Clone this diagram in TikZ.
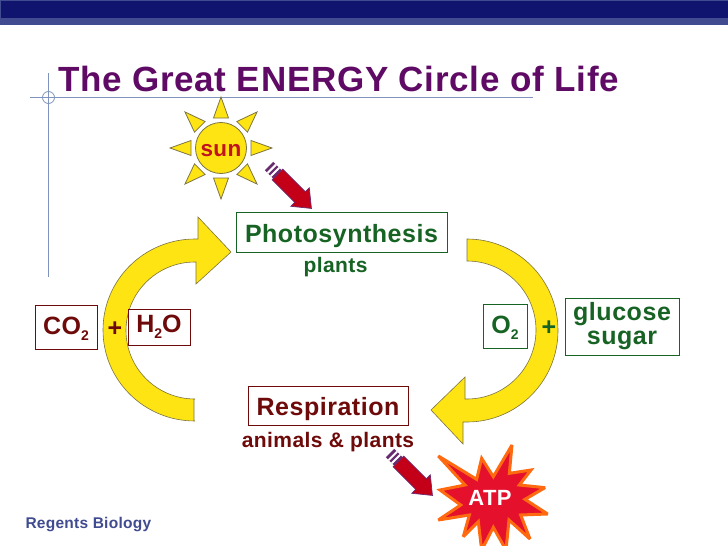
\documentclass[tikz,border=0pt]{standalone}
\usepackage{fontspec}
\setmainfont{Liberation Sans}
\definecolor{navy}{HTML}{10146E}
\definecolor{band}{HTML}{414C90}
\definecolor{guide}{HTML}{7F93BE}
\definecolor{ttl}{HTML}{5F0A64}
\definecolor{yel}{HTML}{FFE414}
\definecolor{yedge}{HTML}{7C7440}
\definecolor{grn}{HTML}{176324}
\definecolor{mar}{HTML}{6E0A0A}
\definecolor{sunred}{HTML}{C0141E}
\definecolor{arrred}{HTML}{C40018}
\definecolor{arredge}{HTML}{6A2A70}
\definecolor{starred}{HTML}{E4102C}
\definecolor{starorg}{HTML}{FF6A10}
\newcommand{\spaced}[2]{\fontsize{#1}{#1}\bfseries\addfontfeature{LetterSpace=#2}}
\tikzset{
  x=1pt,y=-1pt,
  every node/.style={font=\bfseries,inner sep=0pt,outer sep=0pt},
  greenbox/.style={draw=grn,line width=0.9pt,fill=white,text=grn,align=center},
  marbox/.style={draw=mar,line width=0.9pt,fill=white,text=mar,align=center},
  greentxt/.style={text=grn},
  martxt/.style={text=mar},
  curve/.style={fill=yel,draw=yedge,line width=0.6pt,line join=miter},
  ray/.style={fill=yel,draw=yedge,line width=0.8pt},
  big/.style={font=\spaced{25}{2.1}},
  small/.style={font=\spaced{21}{2}},
  drop/.style={text height=2*#1,text depth=0pt},
}
\newcommand{\subtwo}{\raisebox{-6.5pt}{\fontsize{14}{16}\bfseries 2}}
\newcommand{\redarrow}[3]{%
  \begin{scope}[shift={(#1,#2)},rotate=#3,y=1pt]
    \fill[arredge] (0,-6) rectangle (12,6);
    \fill[white] (3,-6) rectangle (5,6);
    \fill[white] (7.5,-6) rectangle (9.5,6);
    \fill[arrred,draw=arredge,line width=0.7pt,line join=miter]
      (12,-7.5) -- (44,-7.5) -- (44,-13) -- (60,0) -- (44,13) -- (44,7.5) -- (12,7.5) -- cycle;
  \end{scope}}
\begin{document}
\begin{tikzpicture}
\useasboundingbox (0,0) rectangle (728,546);
\clip (0,0) rectangle (728,546);
\fill[white] (0,0) rectangle (728,546);
% header
\fill[band] (0,0) rectangle (728,24.5);
\fill[navy] (1,1) rectangle (728,18);
% guides
\draw[guide,line width=0.8pt] (48.5,73) -- (48.5,277);
\draw[guide,line width=0.8pt] (30,97.5) -- (533,97.5);
\draw[guide,line width=0.8pt] (48.5,97.5) circle [radius=6];
% title
\node[anchor=base west,text=ttl,font=\spaced{35}{2.1}] (title) at (58,91) {The Great ENERGY Circle of Life};
% sun
\foreach \a in {0,45,...,315}{
  \draw[ray,rotate around={\a:(221,148)}] (221,97) -- (228.5,118) -- (213.5,118) -- cycle;
}
\node[circle,minimum size=51,fill=yel,draw=yedge,line width=0.8pt,text=sunred,font=\spaced{22.5}{1.5},drop=8pt] (sun) at (221,148) {sun};
% curved arrows
\draw[curve] (198,239) -- (195,239) arc[start angle=-90,end angle=-270,x radius=92,y radius=91] -- (194,421) -- (194,399) -- (195,399)
  arc[start angle=90,end angle=270,x radius=69,y radius=68.5] -- (196,262) -- (196,284) -- (231,252) -- (198,217) -- cycle;
\draw[curve] (467,239) arc[start angle=-90,end angle=90,x radius=91,y radius=91.5] -- (463,422) -- (463,444) -- (431,410) -- (465,377) -- (465,399) -- (467,399)
  arc[start angle=90,end angle=-90,x radius=69,y radius=69] -- cycle;
% boxes
\node[greenbox,big,minimum width=211,minimum height=40,drop=10pt] (photo) at (341.5,232) {Photosynthesis};
\node[anchor=base,greentxt,small] (plants) at (335.5,272) {plants};
\node[marbox,big,minimum width=160,minimum height=39,drop=9.5pt] (resp) at (328,405.5) {Respiration};
\node[anchor=base,martxt,small] (anim) at (328,447) {animals \& plants};
\node[marbox,big,minimum width=62,minimum height=44,drop=7pt] (co2) at (66,327) {CO\subtwo};
\node[marbox,big,minimum width=62,minimum height=36,drop=5pt] (h2o) at (159,327) {H\subtwo O};
\node[text=mar,big] (plusa) at (115,329) {+};
\node[greenbox,big,minimum width=44,minimum height=44,drop=7pt] (o2) at (505,326) {O\subtwo};
\node[text=grn,big] (plusb) at (549,328) {+};
\node[greenbox,minimum width=114,minimum height=57,font=\spaced{25}{2.3}] (gluc) at (622,326.5) {glucose\\[-1pt]sugar};
% red arrows
\redarrow{269}{166}{-45}
\redarrow{390}{453}{-45}
% star
\begin{scope}[shift={(430,440)},x=0.3333pt,y=-0.3333pt]
\draw[fill=starred,draw=starorg,line width=3pt,line join=miter,miter limit=3]
  (25,48) -- (140,118) -- (155,55) -- (190,110) -- (246,15) -- (238,100) -- (303,90) -- (268,135)
  -- (345,143) -- (285,178) -- (353,222) -- (272,225) -- (300,297) -- (237,240) -- (228,330)
  -- (190,262) -- (155,330) -- (145,245) -- (100,290) -- (118,225) -- (25,240) -- (92,195)
  -- (30,150) -- (105,135) -- cycle;
\end{scope}
\node[anchor=base,text=white,font=\spaced{22}{1.5}] (atp) at (490,505.5) {ATP};
% footer
\node[anchor=base west,text=band,font=\spaced{15.5}{1.7}] (foot) at (25.5,528) {Regents Biology};
\end{tikzpicture}
\end{document}
